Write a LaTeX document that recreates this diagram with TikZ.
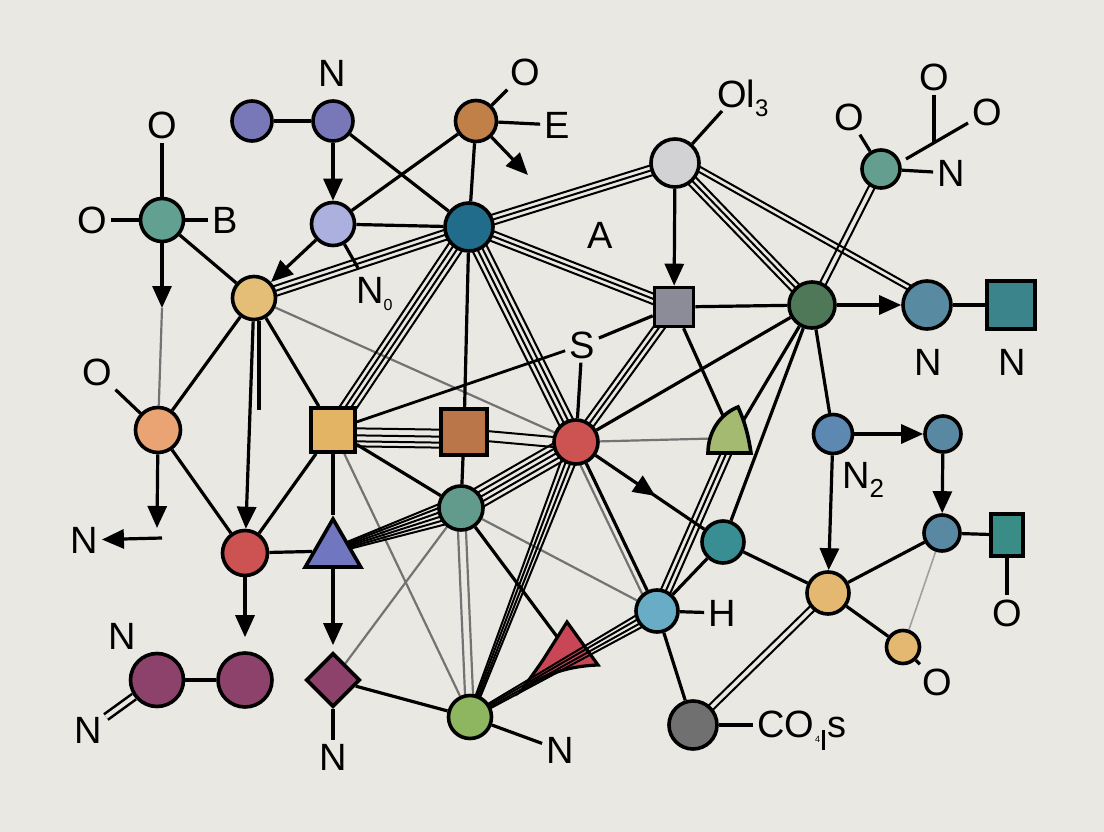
\documentclass[tikz,border=0pt]{standalone}
\usepackage{fontspec}
\setmainfont{Liberation Sans}
\usetikzlibrary{arrows.meta,calc,decorations.markings,shapes.geometric}
\pgfdeclarelayer{back}
\pgfdeclarelayer{edges}
\pgfsetlayers{back,edges,main}
\definecolor{bgc}{RGB}{233,232,227}
\definecolor{grayl}{RGB}{115,115,115}
\definecolor{grayll}{RGB}{160,160,160}
\definecolor{cA}{RGB}{120,120,185}
\definecolor{cBr}{RGB}{192,128,72}
\definecolor{cLv}{RGB}{172,176,222}
\definecolor{cTb}{RGB}{33,108,138}
\definecolor{cLg}{RGB}{210,210,212}
\definecolor{cTg}{RGB}{98,160,146}
\definecolor{cYo}{RGB}{228,190,118}
\definecolor{cGs}{RGB}{140,140,152}
\definecolor{cDg}{RGB}{78,120,88}
\definecolor{cTn}{RGB}{100,158,142}
\definecolor{cBc}{RGB}{88,138,162}
\definecolor{cTs}{RGB}{60,132,140}
\definecolor{cOc}{RGB}{234,164,116}
\definecolor{cYs}{RGB}{226,180,100}
\definecolor{cBs}{RGB}{186,118,72}
\definecolor{cRc}{RGB}{205,82,82}
\definecolor{cGq}{RGB}{164,186,112}
\definecolor{cSbA}{RGB}{92,136,178}
\definecolor{cSb}{RGB}{88,136,162}
\definecolor{cTc}{RGB}{98,155,140}
\definecolor{cBt}{RGB}{112,118,192}
\definecolor{cTq}{RGB}{56,142,146}
\definecolor{cTr}{RGB}{58,140,135}
\definecolor{cYc}{RGB}{228,184,112}
\definecolor{cLb}{RGB}{104,172,198}
\definecolor{cRt}{RGB}{200,70,85}
\definecolor{cPc}{RGB}{140,66,106}
\definecolor{cGc}{RGB}{142,182,96}
\definecolor{cGy}{RGB}{112,112,112}
\newcommand\pbund[4][bl]{\foreach \p in {#4}{\draw[#1] ($(#2.center)!\p pt!90:(#3.center)$) -- ($(#3.center)!\p pt!-90:(#2.center)$);}}
\newcommand\bund[4][bl]{\foreach \p/\q in {#4}{\draw[#1] ($(#2.center)!\p pt!90:(#3.center)$) -- ($(#3.center)!\q pt!-90:(#2.center)$);}}
\tikzset{
 nd/.style={circle, draw=black, line width=3.6pt, inner sep=0pt, minimum size=#1},
 sqn/.style={rectangle, draw=black, line width=3.6pt, inner sep=0pt, minimum size=#1},
 lab/.style={font=\fontsize{38}{42}\selectfont, inner sep=4pt},
 ln/.style={line width=3.2pt},
 bl/.style={line width=2pt},
 gl/.style={line width=2.2pt, draw=grayl},
 arr/.style={line width=3.2pt, -{Triangle[length=22pt,width=19pt]}},
}
\begin{document}
\begin{tikzpicture}[x=1pt,y=-1pt]
\begin{pgfonlayer}{back}
\fill[bgc] (0,0) rectangle (1104,832);
\end{pgfonlayer}
\useasboundingbox (0,0) rectangle (1104,832);
% nodes
\node[nd=40, fill=cA] (a1) at (252,121) {};
\node[nd=40, fill=cA] (a2) at (333,121) {};
\node[nd=41, fill=cBr] (br) at (476,121) {};
\node[nd=43, fill=cLv] (lv) at (333,224) {};
\node[nd=48, fill=cTb] (tb) at (469,227) {};
\node[nd=48, fill=cLg] (lg) at (675,163) {};
\node[nd=43, fill=cTg] (tg) at (162,220) {};
\node[nd=43, fill=cYo] (yo) at (254,298) {};
\node[sqn=39, fill=cGs] (gs) at (674,307) {};
\node[nd=46, fill=cDg] (dg) at (812,305) {};
\node[nd=38, fill=cTn] (tn) at (881,169) {};
\node[nd=48, fill=cBc] (bc) at (927,305) {};
\node[sqn=48, fill=cTs] (ts) at (1011,305) {};
\node[nd=45, fill=cOc] (oc) at (158,430) {};
\node[sqn=44, fill=cYs] (ys) at (333,430) {};
\node[sqn=46, fill=cBs] (bs) at (464,432) {};
\node[nd=44, fill=cRc] (rc) at (576,442) {};
\coordinate (gq) at (733,438);
\filldraw[fill=cGq, line width=3.6pt] (708,453) -- (751,453) .. controls (748,433) and (744,420) .. (738,407) .. controls (720,414) and (708,432) .. cycle;
\node[nd=39, fill=cSbA] (sb1) at (833,434) {};
\node[nd=36, fill=cSb] (sb2) at (943,434) {};
\node[nd=36, fill=cSb] (sb3) at (942,533) {};
\node[rectangle, draw=black, line width=3.6pt, inner sep=0pt, minimum width=32, minimum height=42, fill=cTr] (tr) at (1007,535) {};
\node[nd=44, fill=cTc] (tc) at (461,508) {};
\node[nd=45, fill=cRc] (rc2) at (245,553) {};
\node[regular polygon, regular polygon sides=3, minimum size=64, draw=black, line width=3.6pt, inner sep=0pt, fill=cBt] (bt) at (333,551) {};
\node[nd=42, fill=cTq] (tq) at (723,542) {};
\node[nd=42, fill=cYc] (yc) at (828,593) {};
\node[nd=33, fill=cYc] (yc2) at (903,647) {};
\node[nd=42, fill=cLb] (lb) at (657,611) {};
\node[nd=53, fill=cPc] (pc1) at (157,680) {};
\node[nd=54, fill=cPc] (pc2) at (245,680) {};
\node[diamond, draw=black, line width=3.6pt, minimum width=54, minimum height=54, inner sep=0pt, fill=cPc] (pd) at (333,680) {};
\node[nd=43, fill=cGc] (gc) at (470,717) {};
\node[nd=48, fill=cGy] (gy) at (693,725) {};
% labels
\node[lab] (nTop) at (332,73) {N};
\node[lab] (oT) at (162,125) {O};
\node[lab] (oL) at (92,220) {O};
\node[lab] (lB) at (225,220) {B};
\node[lab] (oBr) at (525,72) {O};
\node[lab] (lE) at (557,125) {E};
\coordinate (brA) at (528,175);
\node[lab, anchor=base west] (lOl) at (713,108) {Ol\raisebox{-9pt}{\fontsize{24}{24}\selectfont 3}};
\coordinate (olE) at (722,111);
\node[lab] (lA) at (600,235) {A};
\node[lab] (lS) at (582,345) {S};
\node[lab] (oTa) at (849,117) {O};
\node[lab] (oTb) at (934,77) {O};
\node[lab] (oTc) at (987,112) {O};
\node[lab] (nTn) at (951,173) {N};
\coordinate (jn) at (934,142);
\coordinate (jE) at (906,159);
\node[lab] (nBc) at (928,362) {N};
\node[lab] (nTs) at (1012,362) {N};
\node[lab] (oOc) at (97,372) {O};
\coordinate (ocA) at (157,528);
\coordinate (ocB) at (162,538);
\node[lab] (nL) at (84,540) {N};
\coordinate (tgA) at (162,308);
\node[lab, anchor=base west] (lN0) at (352,303) {N\raisebox{-7pt}{\fontsize{16}{16}\selectfont 0}};
\coordinate (lvE) at (358,268);
\node[lab, anchor=base west] (lN2) at (838,488) {N\raisebox{-9pt}{\fontsize{26}{26}\selectfont 2}};
\node[lab] (lH) at (722,613) {H};
\node[lab] (oTr) at (1007,613) {O};
\node[lab] (oYc) at (937,682) {O};
\node[lab] (nPa) at (122,636) {N};
\node[lab] (nPb) at (88,730) {N};
\node[lab] (nPd) at (333,757) {N};
\node[lab] (nGc) at (560,750) {N};
\node[lab, anchor=base west] (lCO) at (753,737) {CO\kern1pt\raisebox{-5pt}{\fontsize{9}{9}\selectfont 4}\kern2pt\rule[-13pt]{2.4pt}{20pt}\kern3pt s};
\coordinate (yoS) at (259,321);
\coordinate (yoE) at (259,410);
\coordinate (rtl) at (558,638);
% edges
\begin{pgfonlayer}{edges}
\filldraw[fill=cRt, line width=3.2pt] (567,622) -- (598,665) .. controls (568,666) and (542,675) .. (522,690) .. controls (530,678) and (537,669) .. (543,660) -- cycle;
% gray lines
\draw[gl] (tgA) -- (oc);
\draw[gl] (yo) -- (rc);
\draw[gl] (ys) -- (gc);
\draw[gl] (pd) -- (tc);
\draw[gl] (tc) -- (lb);
\pbund[gl]{tc}{gc}{-4,4}
\draw[gl] (rc) -- (gq);
\pbund[gl]{rc}{lb}{-6}
\draw[line width=1.6pt, draw=grayll] (sb3) -- (yc2);
% black single lines
\draw[ln] (a1) -- (a2);
\draw[ln] (a2) -- (tb);
\draw[ln] (br) -- (lv);
\draw[ln] (br) -- (tb);
\draw[ln] (lv) -- (tb);
\draw[ln] (lv) -- (lvE);
\draw[ln] (tg) -- (oT);
\draw[ln] (tg) -- (oL);
\draw[ln] (tg) -- (lB);
\draw[ln] (br) -- (oBr);
\draw[ln] (br) -- (lE);
\draw[ln] (lg) -- (olE);
\draw[ln] (tg) -- (yo);
\draw[ln] (yo) -- (oc);
\draw[ln] (yo) -- (ys);
\draw[ln] (yoS) -- (yoE);
\draw[ln] (oc) -- (oOc);
\draw[ln] (oc) -- (rc2);
\draw[ln] (ys) -- (rc2);
\draw[ln] (ys) -- (bt);
\draw[ln] (ys) -- (tc);
\draw[ln] (rc2) -- (bt);
\draw[ln] (pc1) -- (pc2);
\draw[line width=2.6pt, double=bgc, double distance=4pt] (pc1) -- (nPb);
\draw[ln] (pd) -- (nPd);
\draw[ln] (pd) -- (gc);
\draw[ln] (tb) -- (bs);
\draw[ln] (bs) -- (tc);
\draw[line width=2.8pt] (lS) -- (ys);
\draw[ln] (lS) -- (rc);
\draw[ln] (lS) -- (gs);
\draw[ln] (gs) -- (gq);
\draw[ln] (gs) -- (dg);
\draw[ln] (rc) -- (dg);
\draw[ln] (dg) -- (gq);
\draw[ln] (dg) -- (tq);
\draw[ln] (dg) -- (sb1);
\draw[ln] (bc) -- (ts);
\draw[ln] (tn) -- (oTa);
\draw[ln] (tn) -- (nTn);
\draw[ln] (oTb) -- (jn);
\draw[ln] (oTc) -- (jE);
\draw[ln] (tq) -- (yc);
\draw[ln] (tq) -- (lb);
\draw[ln] (lb) -- (gy);
\draw[ln] (lb) -- (lH);
\draw[ln] (rc) -- (lb);
\draw[ln] (tc) -- (rtl);
\draw[ln] (gc) -- (nGc);
\draw[ln] (gy) -- (lCO.west |- gy);
\draw[ln] (sb3) -- (tr);
\draw[ln] (tr) -- (oTr);
\draw[ln] (sb3) -- (yc);
\draw[ln] (yc) -- (yc2);
\draw[ln] (yc2) -- (oYc);
% bundles
\pbund{tb}{yo}{-5,0,5}
\pbund{tb}{ys}{-7.5,-2.5,2.5,7.5}
\pbund{tb}{rc}{-7.5,-2.5,2.5,7.5}
\pbund{tb}{gs}{-5,0,5}
\pbund{tb}{lg}{-5,0,5}
\pbund{ys}{bs}{2,-5,-11,-16}
\pbund{bs}{rc}{3,-7}
\pbund{gs}{rc}{-5,0,5}
\pbund{lg}{dg}{-5,0,5}
\pbund{lg}{bc}{4,9}
\pbund{dg}{tn}{-3,3}
\pbund{tc}{rc}{-10,-5,0,5,10}
\bund{bt}{tc}{-2/-12,-1/-7,0/-2,1/3,2/8,3/12}
\bund{rc}{gc}{-7.5/-2,-2.5/-0.7,2.5/0.7,7.5/2}
\bund{lb}{gc}{-7/-2,-2.5/-0.7,2.5/0.7,7/2}
\pbund{gq}{lb}{-5,0,5}
\pbund{yc}{gy}{-3,3}
% arrows
\draw[arr] (a2) -- (lv);
\draw[arr] (lv) -- (yo);
\draw[arr] (br) -- (brA);
\draw[arr] (tg) -- (tgA);
\draw[arr] (oc) -- (ocA);
\draw[arr] (ocB) -- (nL);
\draw[arr] (yo) -- (rc2);
\draw[arr] (lg) -- (gs);
\draw[arr] (dg) -- (bc);
\draw[arr] (sb1) -- (sb2);
\draw[arr] (sb1) -- (yc);
\draw[arr] (sb2) -- (sb3);
\draw[arr, shorten >=14pt] (rc2) -- (pc2);
\draw[arr, shorten >=6pt] (bt) -- (pd);
\draw[ln, postaction={decorate}, decoration={markings, mark=at position 0.55 with {\arrow{Triangle[length=22pt,width=19pt]}}}] (rc) -- (tq);
\end{pgfonlayer}
\end{tikzpicture}
\end{document}
